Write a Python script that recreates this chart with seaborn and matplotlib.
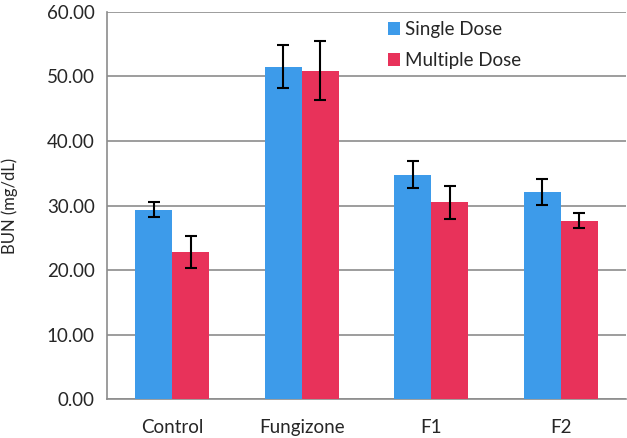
import pandas as pd
import seaborn as sns
import matplotlib.pyplot as plt

groups = ['Control', 'Fungizone', 'F1', 'F2']
single_dose = [29.4, 51.5, 34.8, 32.1]
single_err = [1.2, 3.3, 2.1, 2.0]
multiple_dose = [22.8, 50.9, 30.5, 27.7]
multiple_err = [2.5, 4.6, 2.5, 1.2]

df = pd.DataFrame({
    'group': groups * 2,
    'dose': ['Single Dose'] * 4 + ['Multiple Dose'] * 4,
    'bun': single_dose + multiple_dose,
})
errs = {'Single Dose': single_err, 'Multiple Dose': multiple_err}

sns.set_style('white')
plt.rcParams['font.family'] = ['Lato', 'DejaVu Sans']

fig = plt.figure(figsize=(6.27, 4.38), dpi=100)
ax = fig.add_axes([0.171, 0.088, 0.827, 0.885])

sns.barplot(data=df, x='group', y='bun', hue='dose', order=groups,
            hue_order=['Single Dose', 'Multiple Dose'],
            palette=['#3D9BEA', '#E8325A'], width=0.57, gap=0,
            errorbar=None, saturation=1, linewidth=0, ax=ax, zorder=3)

for cont, name in zip(ax.containers, ['Single Dose', 'Multiple Dose']):
    xs = [p.get_x() + p.get_width() / 2 for p in cont.patches]
    ys = [p.get_height() for p in cont.patches]
    ax.errorbar(xs, ys, yerr=errs[name], fmt='none', ecolor='black',
                elinewidth=1.5, capsize=4, capthick=1.5, zorder=4)

ax.set_ylim(0, 60)
ax.set_xlim(-0.5, 3.5)
ax.set_yticks(range(0, 61, 10))
ax.set_yticklabels([f'{v:.2f}' for v in range(0, 61, 10)], fontsize=13.5)
ax.yaxis.grid(True, color='#8C8C8C', linewidth=1.2, zorder=0)
ax.set_axisbelow(True)

ax.set_xticks(range(4))
ax.set_xticklabels(groups, fontsize=13.5)
ax.tick_params(axis='x', length=0, pad=14)
ax.set_xticks([-0.5, 0.5, 1.5, 2.5, 3.5], minor=True)
ax.tick_params(axis='x', which='minor', length=5, color='#8C8C8C', width=1.2)
ax.tick_params(axis='y', length=5, color='#8C8C8C', width=1.2, pad=4)

for s in ['top', 'right']:
    ax.spines[s].set_visible(False)
for s in ['left', 'bottom']:
    ax.spines[s].set_color('#8C8C8C')
    ax.spines[s].set_linewidth(1.2)

ax.set_xlabel('')
ax.set_ylabel('BUN (mg/dL)', fontsize=12)
ax.yaxis.set_label_coords(-0.172, 0.5)

ax.legend(title=None, frameon=False, loc='upper left',
          bbox_to_anchor=(0.508, 1.02), fontsize=13.5, handlelength=0.65,
          handleheight=0.65, handletextpad=0.3, labelspacing=0.75)

fig.savefig('out.png', dpi=100)
